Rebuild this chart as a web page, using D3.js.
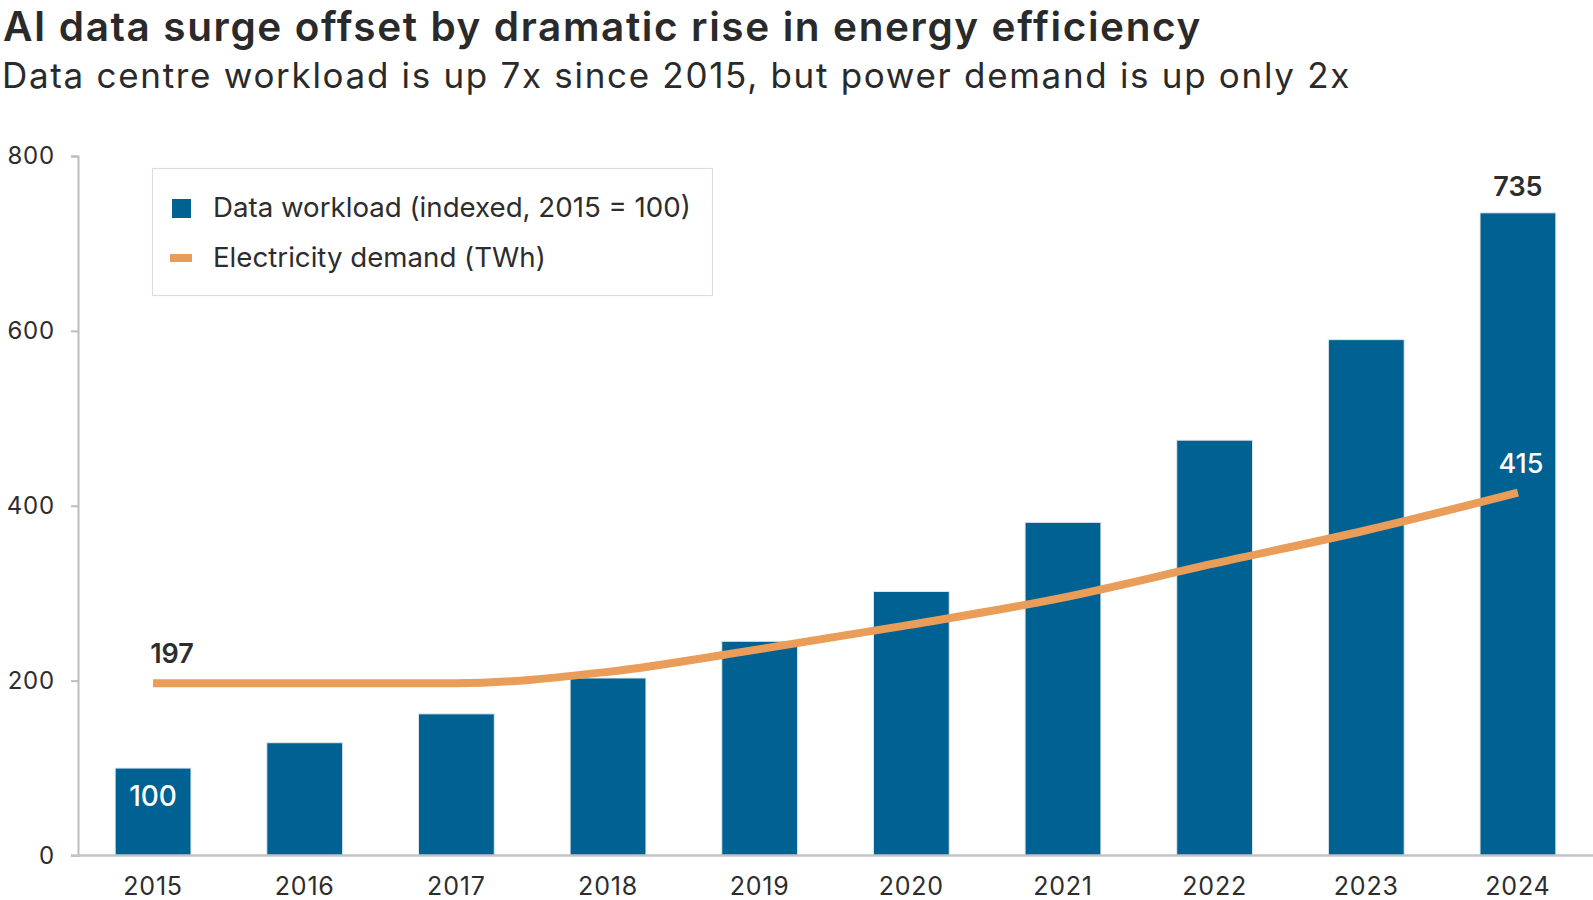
<!DOCTYPE html>
<html><head><meta charset="utf-8">
<script src="https://cdn.jsdelivr.net/npm/d3@7"></script>
<style>
body{margin:0;background:#fff}
svg{display:block}
text{font-family:Inter,"Open Sans",sans-serif}
</style>
</head><body>
<svg id="chart" width="1593" height="900"></svg>
<script>
const years = ["2015","2016","2017","2018","2019","2020","2021","2022","2023","2024"];
const workload = [100,129,162,203,245,302,381,475,590,735];
const electricity = [197,197,197,210,236,264,295,334,372,415];
const yTicks = [0,200,400,600,800];
const seriesNames = ["Data workload (indexed, 2015 = 100)","Electricity demand (TWh)"];
const titleText = "AI data surge offset by dramatic rise in energy efficiency";
const subtitleText = "Data centre workload is up 7x since 2015, but power demand is up only 2x";

const BLUE = "#006293", ORANGE = "#E99D59", TEXT = "#2d2d2d";
const svg = d3.select("#chart");

function fit(sel, target){
  const n = sel.node();
  const fs = parseFloat(sel.attr("font-size"));
  const w = n.getComputedTextLength();
  sel.attr("font-size", (fs*target/w).toFixed(2));
}
function spread(sel, target){
  const n = sel.node();
  const w = n.getComputedTextLength();
  const len = sel.text().length;
  sel.attr("letter-spacing", ((target - w)/len).toFixed(3));
}

// Title
spread(svg.append("text").attr("x",3).attr("y",41).attr("font-size",40.5).attr("font-weight",600)
  .attr("fill","#2a2a2a").text(titleText), 1199);
spread(svg.append("text").attr("x",2).attr("y",88).attr("font-size",35).attr("font-weight",400)
  .attr("fill","#2a2a2a").text(subtitleText), 1349);

const x = d3.scaleBand().domain(years).range([78,1593]).paddingInner(0.5).paddingOuter(0.245);
const y = d3.scaleLinear().domain([0,800]).range([855.5,156]);

// y axis
const ya = svg.append("g").attr("transform","translate(78,0)")
  .call(d3.axisLeft(y).tickValues(yTicks).tickSize(7).tickSizeOuter(7).tickPadding(16));
ya.select(".domain").attr("stroke","#bdbdbd").attr("stroke-width",2);
ya.selectAll(".tick line").attr("stroke","#bdbdbd").attr("stroke-width",2);
ya.selectAll(".tick text").attr("font-size",24).attr("letter-spacing",0.8).attr("fill",TEXT).attr("font-family","Inter,sans-serif");

// bars
svg.append("g").selectAll("rect").data(years).join("rect")
  .attr("x",d=>x(d)).attr("width",x.bandwidth())
  .attr("y",(d,i)=>y(workload[i])).attr("height",(d,i)=>y(0)-y(workload[i]))
  .attr("fill",BLUE).attr("stroke","#e4e8ec").attr("stroke-width",1);

// x axis
const xa = svg.append("g").attr("transform","translate(0,855.5)")
  .call(d3.axisBottom(x).tickSize(0).tickPadding(22));
xa.select(".domain").attr("stroke","#c4c4c4").attr("stroke-width",2.5).attr("d","M71,0H1593");
xa.selectAll(".tick text").attr("font-size",25).attr("letter-spacing",0.8).attr("fill",TEXT).attr("font-family","Inter,sans-serif");

// line
const line = d3.line().x((d,i)=>x(years[i])+x.bandwidth()/2).y(d=>y(d)).curve(d3.curveMonotoneX);
svg.append("path").datum(electricity).attr("d",line).attr("fill","none")
  .attr("stroke",ORANGE).attr("stroke-width",8);

// labels
const cx = i => x(years[i])+x.bandwidth()/2;
const last = years.length-1;
svg.append("text").attr("x",cx(0)+19).attr("y",y(electricity[0])-20).attr("text-anchor","middle")
  .attr("font-size",27).attr("font-weight",600).attr("fill",TEXT).text(electricity[0]);
svg.append("text").attr("x",cx(0)).attr("y",y(workload[0])+38).attr("text-anchor","middle")
  .attr("font-size",28).attr("font-weight",500).attr("fill","#fff").text(workload[0]);
svg.append("text").attr("x",cx(last)).attr("y",y(workload[last])-17).attr("text-anchor","middle")
  .attr("font-size",27).attr("font-weight",600).attr("fill",TEXT).text(workload[last]);
svg.append("text").attr("x",cx(last)+3).attr("y",y(electricity[last])-20).attr("text-anchor","middle")
  .attr("font-size",27).attr("font-weight",500).attr("fill","#fff").text(electricity[last]);

// legend
const lg = svg.append("g");
lg.append("rect").attr("x",152.5).attr("y",168.5).attr("width",560).attr("height",127)
  .attr("fill","#fff").attr("stroke","#dcdcdc").attr("stroke-width",1.2);
lg.append("rect").attr("x",172).attr("y",199).attr("width",19).attr("height",19).attr("fill",BLUE);
lg.append("rect").attr("x",170).attr("y",254).attr("width",22).attr("height",8).attr("fill",ORANGE);
fit(lg.append("text").attr("x",213).attr("y",217).attr("font-size",24).attr("fill",TEXT).text(seriesNames[0]), 478);
const t2 = lg.append("text").attr("x",213).attr("y",267).attr("font-size",24).attr("fill",TEXT).text(seriesNames[1]);
t2.attr("font-size", lg.select("text").attr("font-size"));
</script>
</body></html>
